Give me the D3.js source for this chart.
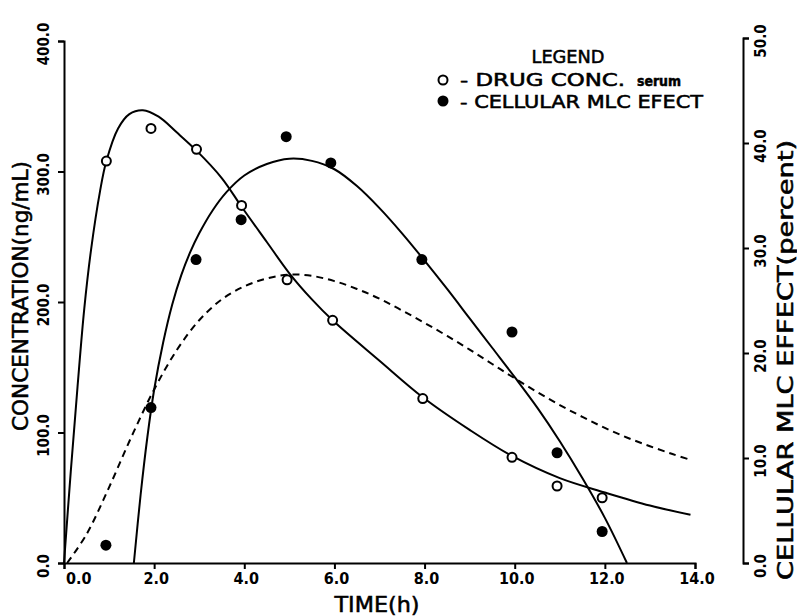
<!DOCTYPE html>
<html>
<head>
<meta charset="utf-8">
<script src="https://cdn.jsdelivr.net/npm/d3@7"></script>
<style>
  body { margin: 0; background: #fff; }
  svg { display: block; }
</style>
</head>
<body>
<div id="chart"></div>
<script>
// time axis ticks (h)
const timeTicks = [0, 2, 4, 6, 8, 10, 12, 14];
const concTicks = [0, 100, 200, 300, 400];
const effectTicks = [0, 10, 20, 30, 40, 50];

// measured points: drug concentration in serum (ng/mL)
const concTimes = [0.94, 1.93, 2.94, 3.94, 4.95, 5.96, 7.96, 9.94, 10.94, 11.94];
const concValues = [308, 333, 317, 274, 217, 186, 126, 81, 59, 50];

// measured points: cellular MLC effect (percent)
const effectTimes = [0.93, 1.93, 2.93, 3.93, 4.93, 5.92, 7.94, 9.94, 10.94, 11.94];
const effectValues = [1.7, 14.8, 28.9, 32.7, 40.6, 38.1, 28.9, 22.0, 10.5, 3.0];

// fitted concentration curve (solid, ng/mL)
const concFitT = [0, 0.15, 0.3, 0.45, 0.6, 0.8, 0.94, 1.2, 1.45, 1.75, 2.1, 2.5, 2.94, 3.5, 3.94, 4.5, 5.0, 5.5, 5.96, 7.0, 7.96, 9.0, 9.94, 11.0, 12.0, 13.0, 13.9];
const concFitV = [0, 70, 135, 195, 240, 285, 308, 333, 344, 347, 342, 330, 316, 295, 273, 246, 222, 202, 186, 155, 127, 102, 82, 65, 54, 44, 37];

// fitted effect curve (solid, percent)
const effectFitT = [1.55, 1.7, 1.85, 2.0, 2.2, 2.4, 2.6, 2.8, 3.0, 3.3, 3.6, 4.0, 4.5, 5.0, 5.5, 6.0, 6.5, 7.0, 7.5, 8.0, 8.5, 9.0, 9.5, 10.0, 10.5, 11.0, 11.5, 12.0, 12.49];
const effectFitV = [0, 6.5, 12, 16.5, 21, 24.6, 27.4, 29.6, 31.4, 33.6, 35.3, 36.9, 38.0, 38.5, 38.3, 37.5, 35.9, 33.8, 31.4, 28.8, 26.1, 23.3, 20.5, 17.7, 14.8, 11.6, 8.1, 4.3, 0];

// dashed curve (ng/mL scale)
const dashT = [0.07, 0.5, 1.0, 1.5, 2.0, 2.5, 3.0, 3.5, 4.0, 4.5, 5.0, 5.5, 6.0, 6.5, 7.0, 7.5, 8.0, 8.5, 9.0, 9.5, 10.0, 10.5, 11.0, 11.5, 12.0, 12.5, 13.0, 13.5, 13.9];
const dashV = [0, 22, 58, 97, 133, 163, 186, 202, 212, 218, 221, 220, 216, 210, 202.5, 193.5, 184, 174, 163.5, 152.5, 141.5, 131, 121, 112, 103.5, 96, 89.5, 83.5, 79];

const legendTitle = "LEGEND";
const legendLabels = ["- DRUG CONC.", "- CELLULAR MLC EFECT"];

const width = 797, height = 616;
const svg = d3.select("#chart").append("svg")
    .attr("width", width)
    .attr("height", height);

const x = d3.scaleLinear().domain([0, 14]).range([64, 695]);
const yL = d3.scaleLinear().domain([0, 400]).range([563, 41]);
const yR = d3.scaleLinear().domain([0, 50]).range([563, 38]);

const ink = "#000";
const font = "'DejaVu Sans Condensed', 'DejaVu Sans', sans-serif";

// axes
const gx = svg.append("g").attr("transform", `translate(0,${yL(0)})`)
    .call(d3.axisBottom(x).tickValues(timeTicks).tickSize(6).tickSizeOuter(6).tickFormat(""));
const gl = svg.append("g").attr("transform", `translate(${x(0)},0)`)
    .call(d3.axisLeft(yL).tickValues(concTicks).tickSize(6).tickSizeOuter(6).tickFormat(""));
const gr = svg.append("g").attr("transform", "translate(743,0)")
    .call(d3.axisRight(yR).tickValues(effectTicks).tickSize(6).tickSizeOuter(6).tickFormat(""));
[gx, gl, gr].forEach(g => {
    g.selectAll("path, line").attr("stroke", ink).attr("stroke-width", 2);
});

// bottom tick labels
svg.append("g").selectAll("text")
    .data(timeTicks)
    .join("text")
    .attr("x", d => x(d) + 2)
    .attr("y", 584)
    .attr("text-anchor", d => d === 0 ? "start" : "middle")
    .attr("font-family", font)
    .attr("font-weight", "bold")
    .attr("font-size", 16)
    .text(d => d3.format(".1f")(d));

// left tick labels (rotated)
svg.append("g").selectAll("text")
    .data(concTicks)
    .join("text")
    .attr("transform", d => `translate(49,${yL(d) + 3}) rotate(-90)`)
    .attr("text-anchor", "middle")
    .attr("font-family", font)
    .attr("font-weight", "bold")
    .attr("font-size", 15)
    .text(d => d3.format(".1f")(d));

// right tick labels (rotated)
svg.append("g").selectAll("text")
    .data(effectTicks)
    .join("text")
    .attr("transform", d => `translate(766,${yR(d) + 3}) rotate(-90)`)
    .attr("text-anchor", "middle")
    .attr("font-family", font)
    .attr("font-weight", "bold")
    .attr("font-size", 15)
    .text(d => d3.format(".1f")(d));

// axis titles
const titleStyle = sel => sel
    .attr("text-anchor", "middle")
    .attr("font-family", font)
    .attr("font-size", 21)
    .attr("stroke", ink).attr("stroke-width", 0.5)
    .attr("lengthAdjust", "spacingAndGlyphs");

svg.append("text").call(titleStyle)
    .attr("x", 377).attr("y", 612)
    .attr("textLength", 85)
    .text("TIME(h)");

svg.append("text").call(titleStyle)
    .attr("transform", "translate(28,296) rotate(-90)")
    .attr("textLength", 270)
    .text("CONCENTRATION(ng/mL)");

svg.append("text").call(titleStyle)
    .attr("transform", "translate(793,360) rotate(-90)")
    .attr("textLength", 440)
    .text("CELLULAR MLC EFFECT(percent)");

// curves
const smooth = d3.curveCatmullRom.alpha(0.5);
const lineL = d3.line().x(d => x(d[0])).y(d => yL(d[1])).curve(smooth);
const lineR = d3.line().x(d => x(d[0])).y(d => yR(d[1])).curve(smooth);

svg.append("path")
    .datum(d3.zip(dashT, dashV))
    .attr("d", lineL)
    .attr("fill", "none").attr("stroke", ink).attr("stroke-width", 2)
    .attr("stroke-dasharray", "7,5");

svg.append("path")
    .datum(d3.zip(concFitT, concFitV))
    .attr("d", lineL)
    .attr("fill", "none").attr("stroke", ink).attr("stroke-width", 2);

svg.append("path")
    .datum(d3.zip(effectFitT, effectFitV))
    .attr("d", lineR)
    .attr("fill", "none").attr("stroke", ink).attr("stroke-width", 2);

// points
svg.append("g").selectAll("circle")
    .data(d3.zip(concTimes, concValues))
    .join("circle")
    .attr("cx", d => x(d[0])).attr("cy", d => yL(d[1]))
    .attr("r", 4.5)
    .attr("fill", "#fff").attr("stroke", ink).attr("stroke-width", 2);

svg.append("g").selectAll("circle")
    .data(d3.zip(effectTimes, effectValues))
    .join("circle")
    .attr("cx", d => x(d[0])).attr("cy", d => yR(d[1]))
    .attr("r", 5.5)
    .attr("fill", ink);

// legend
const lg = svg.append("g");
lg.append("text")
    .attr("x", 568).attr("y", 63)
    .attr("text-anchor", "middle")
    .attr("font-family", font).attr("font-size", 18)
    .attr("stroke", ink).attr("stroke-width", 0.5)
    .attr("textLength", 73).attr("lengthAdjust", "spacingAndGlyphs")
    .text(legendTitle);
lg.append("circle").attr("cx", 443).attr("cy", 80).attr("r", 4.5)
    .attr("fill", "#fff").attr("stroke", ink).attr("stroke-width", 2);
lg.append("circle").attr("cx", 443).attr("cy", 101).attr("r", 5.5).attr("fill", ink);
const t1 = lg.append("text")
    .attr("x", 460).attr("y", 86)
    .attr("font-family", font).attr("font-size", 17.5)
    .attr("stroke", ink).attr("stroke-width", 0.5);
t1.append("tspan").attr("textLength", 165).attr("lengthAdjust", "spacingAndGlyphs").text(legendLabels[0]);
t1.append("tspan").attr("dx", 12).attr("font-size", 14).attr("font-weight", "bold")
    .attr("textLength", 44).attr("lengthAdjust", "spacingAndGlyphs").text("serum");
lg.append("text")
    .attr("x", 460).attr("y", 108)
    .attr("font-family", font).attr("font-size", 17.5)
    .attr("stroke", ink).attr("stroke-width", 0.5)
    .attr("textLength", 243).attr("lengthAdjust", "spacingAndGlyphs")
    .text(legendLabels[1]);
</script>
</body>
</html>
